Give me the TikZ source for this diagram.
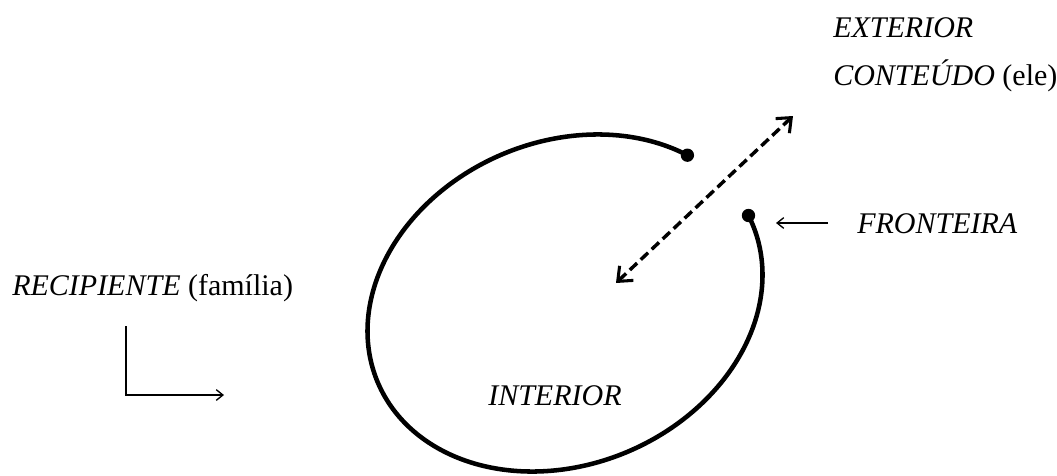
\documentclass[tikz,border=0pt]{standalone}
\usepackage{fontspec}
\setmainfont{Liberation Serif}
\usetikzlibrary{arrows.meta}
\begin{document}
\begin{tikzpicture}[x=0.75pt,y=-0.75pt,
  lbl/.style={inner sep=0pt,anchor=base west,font=\fontsize{22.5}{27}\selectfont},
  dotnode/.style={circle,fill=black,inner sep=0pt,minimum size=10pt},
  thinarrow/.style={line width=1pt,-{Straight Barb[length=5pt,width=8pt,line width=1pt]}},
  dasharrow/.style={line width=2.6pt,dash pattern=on 7.5pt off 3.8pt,
     {Straight Barb[length=9pt,width=15pt,line width=2.3pt]}-{Straight Barb[length=9pt,width=15pt,line width=2.3pt]}},
  curve/.style={line width=3.4pt}]
\useasboundingbox (0,0) rectangle (1057,475);
% labels
\node[lbl] (ext) at (833,37) {\textit{EXTERIOR}};
\node[lbl] (cont) at (833,85) {\textit{CONTEÚDO} (ele)};
\node[lbl] (fron) at (857,233) {\textit{FRONTEIRA}};
\node[lbl] (rec) at (12,295) {\textit{RECIPIENTE} (família)};
\node[lbl] (int) at (488,405) {\textit{INTERIOR}};
% boundary curve
\draw[curve] plot[domain=33:363,samples=160,smooth]
  ({565 + 203.4*cos(\x)*0.9198 - 161.4*sin(\x)*0.3923},
   {303 - 203.4*cos(\x)*0.3923 - 161.4*sin(\x)*0.9198});
\node[dotnode] (d1) at (687.4,155.2) {};
\node[dotnode] (d2) at (748.5,215.5) {};
% dashed double arrow
\coordinate (pin) at (616,283);
\coordinate (pout) at (793,116);
\draw[dasharrow] (pin) -- (pout);
% fronteira arrow
\coordinate (fa) at (828,223);
\coordinate (fb) at (776,223);
\draw[thinarrow] (fa) -- (fb);
% recipiente corner arrow
\coordinate (ra) at (126,326);
\coordinate (rb) at (126,395);
\coordinate (rc) at (224,395);
\draw[thinarrow] (ra) -- (rb) -- (rc);
\end{tikzpicture}
\end{document}
